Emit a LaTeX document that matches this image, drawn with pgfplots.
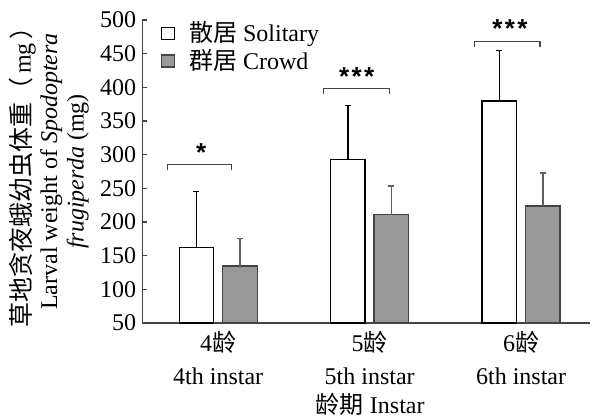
\documentclass[border=0pt]{standalone}
\usepackage{fontspec}
\setmainfont{Liberation Serif}
\newfontfamily\cjk{Noto Sans CJK SC}
\newfontfamily\starfont{Liberation Sans}
\usepackage{pgfplots}
\pgfplotsset{compat=1.18}
\definecolor{barg}{HTML}{999999}
\definecolor{axg}{HTML}{444444}
\definecolor{errg}{HTML}{606060}
\begin{document}
\fontsize{12}{14}\selectfont
\begin{tikzpicture}
\useasboundingbox (-71.25pt,-47pt) rectangle (225.25pt,161.5pt);
\begin{axis}[
  at={(0,0)}, anchor=south west,
  scale only axis, width=223.75pt, height=151.5pt,
  xmin=-0.5, xmax=2.455, ymin=50, ymax=500,
  ybar=4.5pt, bar width=17.25pt,
  clip mode=individual,
  axis lines=left,
  axis line style={-, draw=axg, line width=0.7pt},
  ytick={50,100,...,500},
  tick align=inside, major tick length=2.5pt,
  ytick style={draw=axg, line width=0.7pt},
  xtick={0,1,2},
  xtick style={draw=none},
  xticklabels={{4{\cjk 龄}\\4th instar},{5{\cjk 龄}\\5th instar},{6{\cjk 龄}\\6th instar}},
  xticklabel style={align=center, font=\fontsize{12}{16.5}\selectfont},
  yticklabel style={font=\fontsize{12}{14}\selectfont, xshift=1pt},
  /pgf/number format/assume math mode=true,
  xlabel={{\cjk 龄期} Instar},
  xlabel style={font=\fontsize{12}{14}\selectfont, yshift=4pt, xshift=2pt},
  ylabel={{\fontsize{12.5}{13.25}\selectfont\cjk 草地贪夜蛾幼虫体重（\,}mg{\cjk \,）}\\Larval weight of \textit{Spodoptera}\\\textit{frugiperda} (mg)},
  ylabel style={align=center, font=\fontsize{12}{13.25}\selectfont, at={(axis description cs:0,0.5)}, anchor=center, yshift=46.75pt},
  legend style={draw=none, fill=none, at={(axis description cs:0,1)}, anchor=north west, xshift=9pt, yshift=1.5pt, inner sep=0pt, row sep=-2pt, font=\fontsize{12}{14}\selectfont,
    /tikz/every odd column/.append style={column sep=5pt}},
  legend cell align=left,
]
\addplot[draw=black, fill=white, line width=0.7pt,
  legend image code/.code={\draw[draw=black, fill=white, line width=0.6pt] (0pt,-3pt) rectangle (6.5pt,3pt);},
  error bars/.cd, y dir=plus, y explicit,
  error bar style={line width=0.7pt, black},
  error mark options={rotate=90, mark size=1.5pt, line width=0.7pt, black}]
  coordinates {(0,162.5) +- (0,83) (1,293) +- (0,80) (2,380) +- (0,74.6)};
\addlegendentry{{\cjk 散居} Solitary}
\addplot[draw=axg, fill=barg, line width=0.7pt,
  legend image code/.code={\draw[draw=axg, fill=barg, line width=0.6pt] (0pt,-3pt) rectangle (6.5pt,3pt);},
  error bars/.cd, y dir=plus, y explicit,
  error bar style={line width=0.7pt, errg},
  error mark options={rotate=90, mark size=1.5pt, line width=0.7pt, errg}]
  coordinates {(0,134.7) +- (0,40.6) (1,211) +- (0,42.6) (2,224) +- (0,49)};
\addlegendentry{{\cjk 群居} Crowd}
\draw[axg, line width=0.6pt] (axis cs:-0.337,277.6) |- (axis cs:0.086,285) -- (axis cs:0.086,277.6);
\draw[axg, line width=0.6pt] (axis cs:0.693,390.6) |- (axis cs:1.129,398) -- (axis cs:1.129,390.6);
\draw[axg, line width=0.6pt] (axis cs:1.690,460) |- (axis cs:2.125,467.5) -- (axis cs:2.125,460);
\node[inner sep=0pt] at (axis cs:-0.112,303) {\starfont\bfseries\fontsize{13}{14}\selectfont *};
\node[inner sep=0pt] at (axis cs:0.915,416) {\starfont\bfseries\fontsize{13}{14}\selectfont *\kern1.2pt*\kern1.2pt*};
\node[inner sep=0pt] at (axis cs:1.927,487) {\starfont\bfseries\fontsize{13}{14}\selectfont *\kern1.2pt*\kern1.2pt*};
\end{axis}
\end{tikzpicture}
\end{document}
